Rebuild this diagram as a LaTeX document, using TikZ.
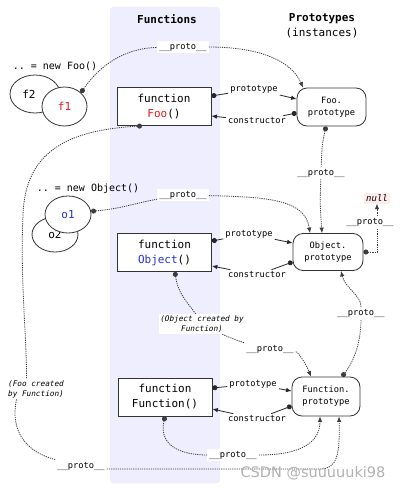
\documentclass[tikz,border=0pt]{standalone}
\usepackage{fontspec}
\setmainfont{DejaVu Sans}
\setmonofont{DejaVu Sans Mono}
\usetikzlibrary{shapes.geometric,arrows.meta}
\definecolor{bandcol}{RGB}{238,238,255}
\definecolor{fred}{RGB}{225,25,30}
\definecolor{oblue}{RGB}{40,50,205}
\definecolor{nullbg}{RGB}{253,236,236}
\definecolor{linecol}{RGB}{60,60,60}
\begin{document}
\begin{tikzpicture}[x=1pt,y=-1pt,
  fbox/.style={draw=black!80, line width=0.8pt, minimum width=94pt, minimum height=38pt, align=center, font=\ttfamily\fontsize{11}{15}\selectfont, fill=white, inner sep=0pt},
  pbox/.style={draw=black!80, line width=0.8pt, rounded corners=10pt, minimum width=69pt, minimum height=38pt, align=center, font=\ttfamily\fontsize{8.7}{12}\selectfont, fill=white, inner sep=0pt},
  inst/.style={ellipse, draw=black!80, line width=0.8pt, fill=white, inner sep=0pt, font=\ttfamily\fontsize{11}{13}\selectfont},
  lbl/.style={fill=white, inner sep=2pt, font=\ttfamily\fontsize{8.7}{10}\selectfont},
  note/.style={fill=white, inner sep=1.5pt, align=center, font=\ttfamily\itshape\fontsize{7.7}{10}\selectfont},
  link/.style={draw=linecol, line width=0.8pt, dash pattern=on 1.2pt off 1pt},
  rel/.style={draw=black!85, line width=0.8pt},
  arr/.style={-{Latex[length=5.5pt,width=4.5pt]}},
  dotstart/.style={{Circle[length=5pt]}-},
]
\useasboundingbox (0,0) rectangle (401,490);
\fill[white] (0,0) rectangle (401,490);
\fill[bandcol, rounded corners=3pt] (110,7) rectangle (220,483);

% headers
\node[font=\ttfamily\bfseries\fontsize{11}{15}\selectfont] (hF) at (167,19) {Functions};
\node[font=\ttfamily\fontsize{11}{15}\selectfont, align=center] (hP) at (322,25.5) {\bfseries Prototypes\\(instances)};

% instances
\node[font=\ttfamily\fontsize{10}{12}\selectfont] (newfoo) at (55,66) {.. = new Foo()};
\node[inst, minimum width=50pt, minimum height=38pt] (f2) at (35,94) {f2\hspace*{12pt}};
\node[inst, minimum width=45pt, minimum height=39pt, text=fred] (f1) at (64.5,106.5) {f1};

\node[font=\ttfamily\fontsize{10}{12}\selectfont] (newobj) at (88,189) {.. = new Object()};
\node[inst, minimum width=46pt, minimum height=35pt] (o2) at (55,234.5) {\raisebox{-5pt}{o2}};
\node[inst, minimum width=46pt, minimum height=37pt, text=oblue] (o1) at (68,214.5) {o1};

% function boxes
\node[fbox] (foo) at (164,106.5) {function\\\textcolor{fred}{Foo}()};
\node[fbox] (obj) at (164.5,252.5) {function\\\textcolor{oblue}{Object}()};
\node[fbox] (fun) at (165,397) {function\\Function()};

% prototype boxes
\node[pbox] (fooP) at (331.5,107) {Foo.\\prototype};
\node[pbox, minimum width=70pt, minimum height=37pt] (oP) at (328,252) {Object.\\prototype};
\node[pbox, minimum width=68pt, minimum height=39pt] (fP) at (326,396.5) {Function.\\prototype};

\node[fill=nullbg, inner sep=2pt, font=\ttfamily\itshape\fontsize{9}{10}\selectfont] (null) at (377,198) {null};

% labels
\node[lbl] (pA) at (183,47) {\_\_proto\_\_};
\node[lbl] (ptA) at (254,89) {prototype};
\node[lbl] (ctA) at (257,121) {constructor};
\node[lbl] (pB) at (321,173) {\_\_proto\_\_};
\node[lbl] (pO) at (183,195) {\_\_proto\_\_};
\node[lbl] (ptB) at (249,234) {prototype};
\node[lbl] (ctB) at (257,275) {constructor};
\node[lbl] (pNull) at (370,222) {\_\_proto\_\_};
\node[lbl] (pE) at (361,313) {\_\_proto\_\_};
\node[note] (nObj) at (202,324) {(Object created by\\Function)};
\node[lbl] (pC) at (270,349) {\_\_proto\_\_};
\node[lbl] (ptC) at (253,384) {prototype};
\node[lbl] (ctC) at (257,419) {constructor};
\node[note] (nFoo) at (36,389) {(Foo created\\by Function)};
\node[lbl] (pD) at (233,455) {\_\_proto\_\_};
\node[lbl] (pF) at (81,466) {\_\_proto\_\_};

% f1 -> Foo.prototype
\draw[link, dotstart] (f1.40) .. controls (100,65) and (125,48) .. (pA);
\draw[link, arr] (pA) .. controls (262,47) and (292,62) .. ([xshift=-28.5pt]fooP.north);
% Foo prototype / constructor
\draw[rel, dotstart] ([yshift=10.5pt]foo.east) -- (ptA);
\draw[rel, arr] (ptA) -- ([yshift=8pt]fooP.west);
\draw[rel, dotstart] ([yshift=-6pt]fooP.west) -- (ctA);
\draw[rel, arr] (ctA) -- ([yshift=-9.5pt]foo.east);
% Foo.prototype -> Object.prototype
\draw[link, dotstart] ([xshift=-5.5pt]fooP.south) .. controls (322,145) .. (pB);
\draw[link, arr] (pB) .. controls (320,205) .. ([xshift=-6pt]oP.north);
% o1 -> Object.prototype
\draw[link, dotstart] (o1.8) .. controls (120,209) and (140,202) .. (pO);
\draw[link, arr] (pO) .. controls (270,197) and (305,200) .. ([xshift=-18pt]oP.north);
% Object prototype / constructor
\draw[rel, dotstart] ([yshift=11.5pt]obj.east) -- (ptB);
\draw[rel, arr] (ptB) -- ([yshift=9pt]oP.west);
\draw[rel, dotstart] ([yshift=-10pt]oP.west) -- (ctB);
\draw[rel, arr] (ctB) -- ([yshift=-13.5pt]obj.east);
% Object.prototype -> null
\draw[link, dotstart] (oP.east) -| ([xshift=7pt]pNull.south);
\draw[link, arr] ([xshift=7pt]pNull.north) -- (null.south);
% Object -> Function.prototype
\draw[link, dotstart] ([xshift=10.5pt]obj.south) .. controls (178,295) and (190,305) .. (nObj);
\draw[link] (nObj) .. controls (230,338) and (245,343) .. (pC);
\draw[link, arr] (pC) .. controls (298,352) and (305,362) .. ([xshift=-15pt]fP.north);
% Function prototype / constructor
\draw[rel, dotstart] ([yshift=9pt]fun.east) -- (ptC);
\draw[rel, arr] (ptC) -- ([yshift=5.5pt]fP.west);
\draw[rel, dotstart] ([yshift=-9.5pt]fP.west) -- (ctC);
\draw[rel, arr] (ctC) -- ([yshift=-12pt]fun.east);
% Function -> Function.prototype
\draw[link, dotstart] (fun.south) .. controls (158,448) and (185,455) .. (pD);
\draw[link, arr] (pD) .. controls (305,455) and (320,440) .. ([xshift=-6pt]fP.south);
% Function.prototype -> Object.prototype
\draw[link, dotstart] ([xshift=16pt]fP.north) .. controls (355,360) and (361,340) .. (pE);
\draw[link, arr] (pE) .. controls (361,295) and (345,288) .. ([xshift=13pt]oP.south);
% Foo -> Function.prototype
\draw[link, dotstart] ([xshift=-22pt]foo.south) .. controls (70,130) and (25,150) .. (23,215)
      .. controls (20,280) and (27,340) .. ([xshift=20pt]nFoo.north west);
\draw[link] ([xshift=10pt]nFoo.south west) .. controls (10,430) and (25,452) .. (pF);
\draw[link, arr] ([yshift=-3pt]pF.east) -- (320,469) .. controls (337,469) and (340,455) .. ([xshift=13pt]fP.south);

% watermark
\node[font=\fontsize{14.5}{16}\selectfont, text=gray!60] (wm) at (313,473) {CSDN @suuuuuki98};
\end{tikzpicture}
\end{document}
